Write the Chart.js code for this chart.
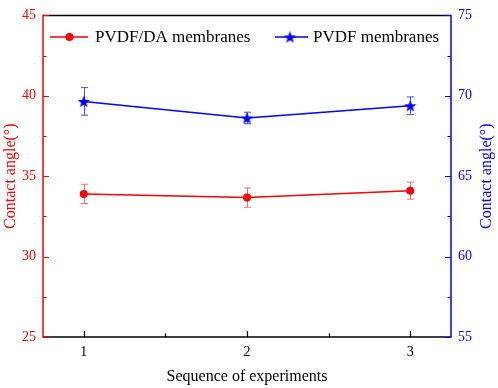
<!DOCTYPE html>
<html><head><meta charset="utf-8">
<script src="https://cdn.jsdelivr.net/npm/chart.js@4/dist/chart.umd.min.js"></script>
<style>html,body{margin:0;padding:0;background:#fff}#c{display:block}</style>
</head><body>
<canvas id="c" width="498" height="388"></canvas>
<script>
const categories = [1, 2, 3];
const pvdfDA = [33.9, 33.67, 34.1];
const pvdfDAErr = [0.6, 0.6, 0.53];
const pvdf = [69.65, 68.62, 69.38];
const pvdfErr = [0.86, 0.36, 0.55];
const xTicks = [1, 2, 3];
const xMinor = [1.5, 2.5];
const leftTicks = [25, 30, 35, 40, 45];
const leftMinor = [27.5, 32.5, 37.5, 42.5];
const rightTicks = [55, 60, 65, 70, 75];
const rightMinor = [57.5, 62.5, 67.5, 72.5];
const labels = ['PVDF/DA membranes', 'PVDF membranes'];
const xTitle = 'Sequence of experiments';
const yTitle = 'Contact angle(°)';

const RED = '#ff0000', BLUE = '#0000ff';
const FONT = '"Liberation Serif", "Times New Roman", serif';

function starCanvas(size, color) {
  const c = document.createElement('canvas');
  c.width = size; c.height = size;
  const g = c.getContext('2d');
  const cx = size / 2, cy = size / 2 + 0.6, R = size / 2, r = R * 0.42;
  g.beginPath();
  for (let i = 0; i < 10; i++) {
    const a = -Math.PI / 2 + i * Math.PI / 5;
    const rr = i % 2 === 0 ? R : r;
    g.lineTo(cx + rr * Math.cos(a), cy + rr * Math.sin(a));
  }
  g.closePath();
  g.fillStyle = color; g.fill();
  return c;
}
const star = starCanvas(13, BLUE);

const overlay = {
  id: 'overlay',
  beforeDatasetsDraw(chart) {
    const ctx = chart.ctx;
    const x = chart.scales.x, yl = chart.scales.y, yr = chart.scales.y2;
    ctx.save();
    const drawErr = (vals, errs, scale, color) => {
      ctx.strokeStyle = color; ctx.lineWidth = 1;
      vals.forEach((v, i) => {
        const px = Math.round(x.getPixelForValue(categories[i])) + 0.5;
        const t = scale.getPixelForValue(v + errs[i]);
        const b = scale.getPixelForValue(v - errs[i]);
        ctx.beginPath();
        ctx.moveTo(px, t); ctx.lineTo(px, b);
        ctx.moveTo(px - 3.5, t); ctx.lineTo(px + 3.5, t);
        ctx.moveTo(px - 3.5, b); ctx.lineTo(px + 3.5, b);
        ctx.stroke();
      });
    };
    drawErr(pvdfDA, pvdfDAErr, yl, '#ff6a6a');
    drawErr(pvdf, pvdfErr, yr, '#4a4aff');
    ctx.restore();
  },
  afterDraw(chart) {
    const ctx = chart.ctx;
    const x = chart.scales.x, yl = chart.scales.y, yr = chart.scales.y2;
    const ca = chart.chartArea;
    ctx.save();
    ctx.lineWidth = 1.5;
    ctx.strokeStyle = '#000';
    ctx.beginPath();
    ctx.moveTo(ca.left, ca.top); ctx.lineTo(ca.right, ca.top);
    ctx.moveTo(ca.left, ca.bottom); ctx.lineTo(ca.right, ca.bottom);
    ctx.stroke();
    ctx.strokeStyle = RED;
    ctx.beginPath(); ctx.moveTo(ca.left, ca.top - 0.75); ctx.lineTo(ca.left, ca.bottom + 0.75); ctx.stroke();
    ctx.strokeStyle = BLUE;
    ctx.beginPath(); ctx.moveTo(ca.right, ca.top - 0.75); ctx.lineTo(ca.right, ca.bottom + 0.75); ctx.stroke();
    ctx.lineWidth = 1.2;
    ctx.strokeStyle = '#000';
    ctx.beginPath();
    xTicks.forEach(v => { const p = Math.round(x.getPixelForValue(v)) + 0.5; ctx.moveTo(p, ca.bottom); ctx.lineTo(p, ca.bottom - 6); });
    xMinor.forEach(v => { const p = Math.round(x.getPixelForValue(v)) + 0.5; ctx.moveTo(p, ca.bottom); ctx.lineTo(p, ca.bottom - 3.5); });
    ctx.stroke();
    ctx.strokeStyle = RED;
    ctx.beginPath();
    leftTicks.forEach(v => { const p = Math.round(yl.getPixelForValue(v)) + 0.5; ctx.moveTo(ca.left, p); ctx.lineTo(ca.left + 6, p); });
    leftMinor.forEach(v => { const p = Math.round(yl.getPixelForValue(v)) + 0.5; ctx.moveTo(ca.left, p); ctx.lineTo(ca.left + 3.5, p); });
    ctx.stroke();
    ctx.strokeStyle = BLUE;
    ctx.beginPath();
    rightTicks.forEach(v => { const p = Math.round(yr.getPixelForValue(v)) + 0.5; ctx.moveTo(ca.right, p); ctx.lineTo(ca.right - 6, p); });
    rightMinor.forEach(v => { const p = Math.round(yr.getPixelForValue(v)) + 0.5; ctx.moveTo(ca.right, p); ctx.lineTo(ca.right - 3.5, p); });
    ctx.stroke();
    ctx.font = '16px ' + FONT;
    ctx.textAlign = 'center'; ctx.textBaseline = 'middle';
    const cy = (ca.top + ca.bottom) / 2;
    ctx.fillStyle = RED;
    ctx.save(); ctx.translate(11, cy); ctx.rotate(-Math.PI / 2); ctx.fillText(yTitle, 0, 0); ctx.restore();
    ctx.fillStyle = BLUE;
    ctx.save(); ctx.translate(487, cy); ctx.rotate(-Math.PI / 2); ctx.fillText(yTitle, 0, 0); ctx.restore();
    ctx.fillStyle = '#000';
    ctx.fillText(xTitle, (ca.left + ca.right) / 2, 377);
    const ly = 37;
    ctx.font = '17px ' + FONT;
    ctx.textAlign = 'left';
    ctx.lineWidth = 1.5;
    ctx.strokeStyle = RED;
    ctx.beginPath(); ctx.moveTo(50, ly); ctx.lineTo(88, ly); ctx.stroke();
    ctx.fillStyle = RED;
    ctx.beginPath(); ctx.arc(69.5, ly, 4, 0, Math.PI * 2); ctx.fill();
    ctx.fillStyle = '#000';
    ctx.fillText(labels[0], 95, ly + 1);
    ctx.strokeStyle = BLUE;
    ctx.beginPath(); ctx.moveTo(275, ly); ctx.lineTo(308, ly); ctx.stroke();
    ctx.drawImage(star, 290 - 6.5, ly - 6.5);
    ctx.fillStyle = '#000';
    ctx.fillText(labels[1], 313, ly + 1);
    ctx.restore();
  }
};

new Chart(document.getElementById('c'), {
  type: 'line',
  data: {
    datasets: [
      { label: labels[0], data: categories.map((c, i) => ({ x: c, y: pvdfDA[i] })), yAxisID: 'y',
        borderColor: RED, backgroundColor: RED, borderWidth: 1.5, pointRadius: 4, pointHoverRadius: 4, pointStyle: 'circle', pointBorderWidth: 0 },
      { label: labels[1], data: categories.map((c, i) => ({ x: c, y: pvdf[i] })), yAxisID: 'y2',
        borderColor: BLUE, backgroundColor: BLUE, borderWidth: 1.5, pointStyle: star, pointRadius: 6 }
    ]
  },
  options: {
    responsive: false, animation: false, devicePixelRatio: 1,
    layout: { padding: { top: 7, left: 0, right: 0, bottom: 0 } },
    plugins: { legend: { display: false }, tooltip: { enabled: false } },
    scales: {
      x: { type: 'linear', min: 0.75, max: 3.25,
        afterBuildTicks: s => { s.ticks = xTicks.map(v => ({ value: v })); },
        afterFit: s => { s.height = 51; },
        grid: { display: false, drawTicks: false }, border: { display: false },
        ticks: { color: '#000', font: { family: FONT, size: 14 }, padding: 7 } },
      y: { position: 'left', min: 25, max: 45,
        afterBuildTicks: s => { s.ticks = leftTicks.map(v => ({ value: v })); },
        afterFit: s => { s.width = 43; },
        grid: { display: false, drawTicks: false }, border: { display: false },
        ticks: { color: RED, font: { family: FONT, size: 14 }, padding: 7 } },
      y2: { position: 'right', min: 55, max: 75,
        afterBuildTicks: s => { s.ticks = rightTicks.map(v => ({ value: v })); },
        afterFit: s => { s.width = 47; },
        grid: { display: false, drawTicks: false }, border: { display: false },
        ticks: { color: BLUE, font: { family: FONT, size: 14 }, padding: 7 } }
    }
  },
  plugins: [overlay]
});
</script>
</body></html>
